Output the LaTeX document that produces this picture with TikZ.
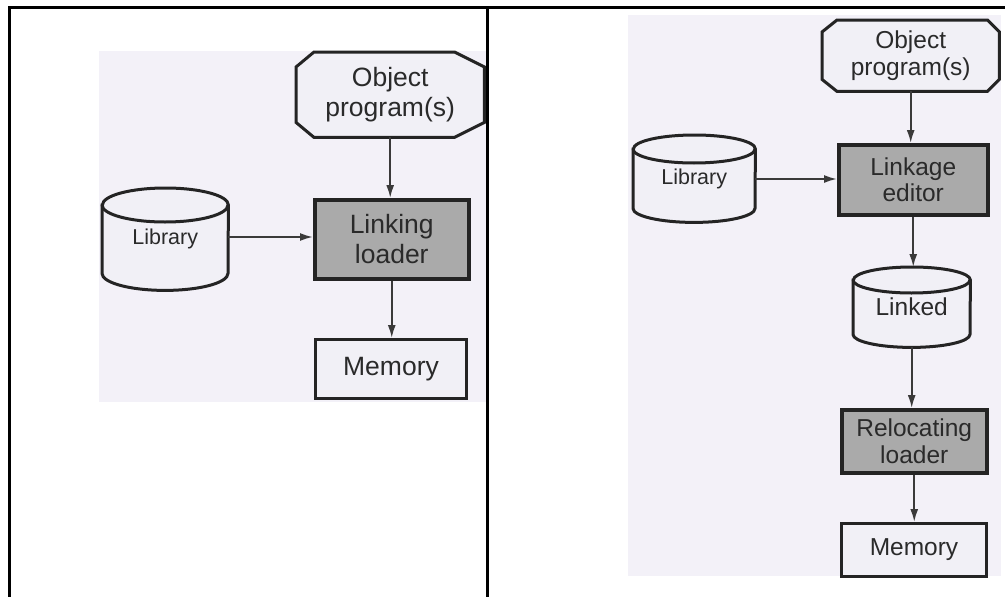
\documentclass[tikz,border=0pt]{standalone}
\usepackage{fontspec}
\setmainfont{Liberation Sans}
\usetikzlibrary{arrows.meta,calc}

\definecolor{paper}{RGB}{243,241,248}
\definecolor{shapefill}{RGB}{241,240,246}
\definecolor{procfill}{RGB}{170,170,170}
\definecolor{ink}{RGB}{36,36,36}
\definecolor{wire}{RGB}{58,58,58}
\definecolor{txt}{RGB}{42,42,42}

\pgfdeclarelayer{backdrop}
\pgfdeclarelayer{outline}
\pgfsetlayers{backdrop,outline,main}

% stretched octagon round a node: left cut, right cut, vertical cut
\newcommand{\octoshape}[4]{%
  \filldraw[shapeline] ($(#1.north west)+(#2,0)$) -- ($(#1.north east)+(-#3,0)$)
    -- ($(#1.north east)+(0,#4)$) -- ($(#1.south east)+(0,-#4)$)
    -- ($(#1.south east)+(-#3,0)$) -- ($(#1.south west)+(#2,0)$)
    -- ($(#1.south west)+(0,-#4)$) -- ($(#1.north west)+(0,#4)$) -- cycle;}

% upright drum (storage) round a node: half width, ellipse radius
\newcommand{\drumshape}[3]{%
  \filldraw[shapeline] ($(#1.north west)+(0,#3)$) -- ($(#1.south west)+(0,-#3)$)
    arc[start angle=180,end angle=360,x radius=#2pt,y radius=#3pt]
    -- ($(#1.north east)+(0,#3)$)
    arc[start angle=0,end angle=180,x radius=#2pt,y radius=#3pt] -- cycle;
  \draw[shapeline,fill=none] ($(#1.north west)+(0,#3)$)
    arc[start angle=180,end angle=360,x radius=#2pt,y radius=#3pt];}

\tikzset{
  frameline/.style={draw=black,line width=3pt},
  shapeline/.style={draw=ink,line width=3pt,fill=shapefill},
  procbox/.style={draw=ink,line width=3.5pt,fill=procfill,inner sep=0pt,
    align=center,text=txt,anchor=north west},
  plainbox/.style={draw=ink,line width=3pt,fill=shapefill,inner sep=0pt,
    align=center,text=txt,anchor=north west},
  holder/.style={inner sep=0pt,align=center,text=txt,anchor=north west},
  flow/.style={draw=wire,line width=1.8pt,-{Latex[length=13pt,width=8pt]}},
  leftfont/.style={font=\fontsize{26.5}{30}\selectfont},
  rightfont/.style={font=\fontsize{24.5}{26.5}\selectfont},
  drumfont/.style={font=\fontsize{21.5}{24}\selectfont},
}

\begin{document}
\begin{tikzpicture}[x=1pt,y=-1pt]
\useasboundingbox (0,0) rectangle (1005,597);

% ---------------- left: linking loader ----------------
\node[holder,leftfont,minimum width=188pt,minimum height=85pt] (lobj) at (296,52) {Object\\program(s)};
\node[holder,drumfont,minimum width=126pt,minimum height=102pt] (llib) at (102,188) {\raisebox{-5pt}{Library}};
\node[procbox,leftfont,minimum width=154pt,minimum height=79pt] (llink) at (313,198) {Linking\\loader};
\node[plainbox,leftfont,minimum width=151pt,minimum height=59pt] (lmem) at (314,338) {Memory};

% ---------------- right: linkage editor ----------------
\node[holder,rightfont,minimum width=177pt,minimum height=71pt] (robj) at (822,20) {Object\\program(s)};
\node[holder,drumfont,minimum width=122pt,minimum height=87pt] (rlib) at (633,135) {\raisebox{-3pt}{Library}};
\node[procbox,rightfont,minimum width=149pt,minimum height=70pt] (redit) at (837,143) {Linkage\\editor};
\node[holder,rightfont,minimum width=117pt,minimum height=80pt] (rlinked) at (853,267) {\raisebox{-9pt}{Linked}};
\node[procbox,rightfont,minimum width=145pt,minimum height=63pt] (rreloc) at (840,408) {Relocating\\loader};
\node[plainbox,rightfont,minimum width=145pt,minimum height=53pt] (rmem) at (840,522) {Memory};

\begin{pgfonlayer}{backdrop}
  \fill[white] (0,0) rectangle (1005,597);
  \fill[paper] (99,51) rectangle (485.5,402);
  \fill[paper] (628,15) rectangle (1001,576);
  % table frame
  \draw[frameline] (8,7) -- (1005,7);
  \draw[frameline] (9.5,7) -- (9.5,597);
  \draw[frameline] (487,7) -- (487,597);
\end{pgfonlayer}

\begin{pgfonlayer}{outline}
  \octoshape{lobj}{18}{30}{15}
  \drumshape{llib}{63}{17}
  \octoshape{robj}{15}{12}{12}
  \drumshape{rlib}{61}{14}
  \drumshape{rlinked}{58.5}{13}
\end{pgfonlayer}

% connectors
\draw[flow] (lobj.south) -- (lobj.south |- llink.north);
\draw[flow] (llib.east |- 0,237) coordinate (lfeed) -- (lfeed -| llink.west);
\draw[flow] (llink.south) -- (llink.south |- lmem.north);

\draw[flow] (robj.south) -- (robj.south |- redit.north);
\draw[flow] (rlib.east |- 0,179) coordinate (rfeed) -- (rfeed -| redit.west);
\draw[flow] (redit.south) -- (redit.south |- rlinked.north);
\draw[flow] (rlinked.south) -- (rlinked.south |- rreloc.north);
\draw[flow] (rreloc.south) -- (rreloc.south |- rmem.north);
\end{tikzpicture}
\end{document}
